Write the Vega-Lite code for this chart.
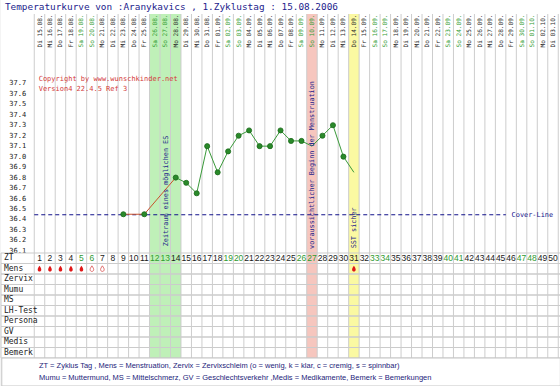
{
  "$schema": "https://vega.github.io/schema/vega-lite/v6.json",
  "padding": 0,
  "spacing": 0,
  "bounds": "flush",
  "background": "#f4f4f4",
  "config": {"view": {"stroke": null, "fill": "#ffffff"}, "concat": {"spacing": 0}},
  "datasets": {
    "days": [
      {"d":1,"lab":"Di 15.08.","we":"n"},{"d":2,"lab":"Mi 16.08.","we":"n"},{"d":3,"lab":"Do 17.08.","we":"n"},{"d":4,"lab":"Fr 18.08.","we":"n"},
      {"d":5,"lab":"Sa 19.08.","we":"w"},{"d":6,"lab":"So 20.08.","we":"w"},{"d":7,"lab":"Mo 21.08.","we":"n"},{"d":8,"lab":"Di 22.08.","we":"n"},
      {"d":9,"lab":"Mi 23.08.","we":"n"},{"d":10,"lab":"Do 24.08.","we":"n"},{"d":11,"lab":"Fr 25.08.","we":"n"},{"d":12,"lab":"Sa 26.08.","we":"w"},
      {"d":13,"lab":"So 27.08.","we":"w"},{"d":14,"lab":"Mo 28.08.","we":"n"},{"d":15,"lab":"Di 29.08.","we":"n"},{"d":16,"lab":"Mi 30.08.","we":"n"},
      {"d":17,"lab":"Do 31.08.","we":"n"},{"d":18,"lab":"Fr 01.09.","we":"n"},{"d":19,"lab":"Sa 02.09.","we":"w"},{"d":20,"lab":"So 03.09.","we":"w"},
      {"d":21,"lab":"Mo 04.09.","we":"n"},{"d":22,"lab":"Di 05.09.","we":"n"},{"d":23,"lab":"Mi 06.09.","we":"n"},{"d":24,"lab":"Do 07.09.","we":"n"},
      {"d":25,"lab":"Fr 08.09.","we":"n"},{"d":26,"lab":"Sa 09.09.","we":"w"},{"d":27,"lab":"So 10.09.","we":"w"},{"d":28,"lab":"Mo 11.09.","we":"n"},
      {"d":29,"lab":"Di 12.09.","we":"n"},{"d":30,"lab":"Mi 13.09.","we":"n"},{"d":31,"lab":"Do 14.09.","we":"n"},{"d":32,"lab":"Fr 15.09.","we":"n"},
      {"d":33,"lab":"Sa 16.09.","we":"w"},{"d":34,"lab":"So 17.09.","we":"w"},{"d":35,"lab":"Mo 18.09.","we":"n"},{"d":36,"lab":"Di 19.09.","we":"n"},
      {"d":37,"lab":"Mi 20.09.","we":"n"},{"d":38,"lab":"Do 21.09.","we":"n"},{"d":39,"lab":"Fr 22.09.","we":"n"},{"d":40,"lab":"Sa 23.09.","we":"w"},
      {"d":41,"lab":"So 24.09.","we":"w"},{"d":42,"lab":"Mo 25.09.","we":"n"},{"d":43,"lab":"Di 26.09.","we":"n"},{"d":44,"lab":"Mi 27.09.","we":"n"},
      {"d":45,"lab":"Do 28.09.","we":"n"},{"d":46,"lab":"Fr 29.09.","we":"n"},{"d":47,"lab":"Sa 30.09.","we":"w"},{"d":48,"lab":"So 01.10.","we":"w"},
      {"d":49,"lab":"Mo 02.10.","we":"n"},{"d":50,"lab":"Di 03.10.","we":"n"}
    ],
    "bounds": [
      {"d":0.5},{"d":1.5},{"d":2.5},{"d":3.5},{"d":4.5},{"d":5.5},{"d":6.5},{"d":7.5},{"d":8.5},{"d":9.5},
      {"d":10.5},{"d":11.5},{"d":12.5},{"d":13.5},{"d":14.5},{"d":15.5},{"d":16.5},{"d":17.5},{"d":18.5},{"d":19.5},
      {"d":20.5},{"d":21.5},{"d":22.5},{"d":23.5},{"d":24.5},{"d":25.5},{"d":26.5},{"d":27.5},{"d":28.5},{"d":29.5},
      {"d":30.5},{"d":31.5},{"d":32.5},{"d":33.5},{"d":34.5},{"d":35.5},{"d":36.5},{"d":37.5},{"d":38.5},{"d":39.5},
      {"d":40.5},{"d":41.5},{"d":42.5},{"d":43.5},{"d":44.5},{"d":45.5},{"d":46.5},{"d":47.5},{"d":48.5},{"d":49.5},{"d":50.5}
    ],
    "bands": [
      {"s":11.5,"e":14.5,"c":"g"},
      {"s":26.5,"e":27.5,"c":"p"},
      {"s":30.5,"e":31.5,"c":"y"}
    ],
    "temp": [
      {"d":9,"t":36.45,"seg":"r","m":1},
      {"d":11,"t":36.45,"seg":"r","m":1},
      {"d":14,"t":36.8,"seg":"r","m":0},
      {"d":14,"t":36.8,"seg":"g","m":1},
      {"d":15,"t":36.75,"seg":"g","m":1},
      {"d":16,"t":36.65,"seg":"g","m":1},
      {"d":17,"t":37.1,"seg":"g","m":1},
      {"d":18,"t":36.85,"seg":"g","m":1},
      {"d":19,"t":37.05,"seg":"g","m":1},
      {"d":20,"t":37.2,"seg":"g","m":1},
      {"d":21,"t":37.25,"seg":"g","m":1},
      {"d":22,"t":37.1,"seg":"g","m":1},
      {"d":23,"t":37.1,"seg":"g","m":1},
      {"d":24,"t":37.25,"seg":"g","m":1},
      {"d":25,"t":37.15,"seg":"g","m":1},
      {"d":26,"t":37.15,"seg":"g","m":1},
      {"d":27,"t":37.1,"seg":"g","m":0},
      {"d":28,"t":37.2,"seg":"g","m":1},
      {"d":29,"t":37.3,"seg":"g","m":1},
      {"d":30,"t":37.0,"seg":"g","m":1},
      {"d":31,"t":36.85,"seg":"g","m":0}
    ],
    "rows": [
      {"r":"ZT","d":-2.39,"d0":-2.674,"d1":50.762},{"r":"Mens","d":-2.39,"d0":-2.674,"d1":50.762},
      {"r":"Zervix","d":-2.39,"d0":-2.674,"d1":50.762},{"r":"Mumu","d":-2.39,"d0":-2.674,"d1":50.762},
      {"r":"MS","d":-2.39,"d0":-2.674,"d1":50.762},{"r":"LH-Test","d":-2.39,"d0":-2.674,"d1":50.762},
      {"r":"Persona","d":-2.39,"d0":-2.674,"d1":50.762},{"r":"GV","d":-2.39,"d0":-2.674,"d1":50.762},
      {"r":"Medis","d":-2.39,"d0":-2.674,"d1":50.762},{"r":"Bemerk","d":-2.39,"d0":-2.674,"d1":50.762}
    ]
  },
  "vconcat": [
    {
      "width": 560, "height": 14,
      "data": {"values": [{"d": -2.3, "s": "Temperaturkurve von :Aranykavics , 1.Zyklustag : 15.08.2006"}]},
      "mark": {"type": "text", "align": "left", "baseline": "middle", "font": "DejaVu Sans Mono", "fontSize": 9.4, "color": "#1c1c8c"},
      "encoding": {
        "x": {"field": "d", "type": "quantitative", "scale": {"domain": [-2.674, 50.762], "nice": false, "zero": false}, "axis": null},
        "text": {"field": "s"}
      }
    },
    {
      "width": 560, "height": 34,
      "resolve": {"scale": {"color": "independent"}},
      "encoding": {"x": {"field": "d", "type": "quantitative", "scale": {"domain": [-2.674, 50.762], "nice": false, "zero": false}, "axis": null}},
      "layer": [
        {
          "data": {"name": "bands"},
          "mark": {"type": "rect"},
          "encoding": {
            "x": {"field": "s", "type": "quantitative"},
            "x2": {"field": "e"},
            "color": {"field": "c", "type": "nominal", "scale": {"domain": ["g","p","y"], "range": ["#bff0b8","#f6c6be","#fbf9a2"]}, "legend": null}
          }
        },
        {
          "data": {"name": "bounds"},
          "mark": {"type": "rule", "color": "#cdcdcd", "strokeWidth": 1},
          "encoding": {}
        },
        {
          "data": {"name": "days"},
          "mark": {"type": "text", "angle": 270, "align": "center", "baseline": "middle", "font": "DejaVu Sans Mono", "fontSize": 6.1},
          "encoding": {
            "text": {"field": "lab"},
            "color": {"field": "we", "type": "nominal", "scale": {"domain": ["n", "w"], "range": ["#2a2a2a", "#2f9a2f"]}, "legend": null}
          }
        }
      ]
    },
    {
      "width": 560, "height": 205,
      "resolve": {"scale": {"color": "independent"}},
      "encoding": {
        "x": {"field": "d", "type": "quantitative", "scale": {"domain": [-2.674, 50.762], "nice": false, "zero": false}, "axis": null}
      },
      "layer": [
        {
          "data": {"name": "bands"},
          "mark": {"type": "rect"},
          "encoding": {
            "x": {"field": "s", "type": "quantitative"},
            "x2": {"field": "e"},
            "color": {"field": "c", "type": "nominal", "scale": {"domain": ["g","p","y"], "range": ["#bff0b8","#f6c6be","#fbf9a2"]}, "legend": null}
          }
        },
        {
          "data": {"values": [
            {"t":36.18},{"t":36.28},{"t":36.38},{"t":36.48},{"t":36.58},{"t":36.68},{"t":36.78},{"t":36.88},{"t":36.98},{"t":37.08},
            {"t":37.18},{"t":37.28},{"t":37.38},{"t":37.48},{"t":37.58},{"t":37.68},{"t":37.78},{"t":37.88},{"t":37.98}
          ]},
          "mark": {"type": "rule", "color": "#d4d4d4", "strokeWidth": 1},
          "encoding": {
            "y": {"field": "t", "type": "quantitative", "scale": {"domain": [36.08, 38.037], "nice": false, "zero": false}, "axis": null}
          }
        },
        {
          "data": {"name": "bounds"},
          "mark": {"type": "rule", "color": "#cdcdcd", "strokeWidth": 1},
          "encoding": {}
        },
        {
          "data": {"values": [
            {"d":-1.88,"t":37.7},{"d":-1.88,"t":37.6},{"d":-1.88,"t":37.5},{"d":-1.88,"t":37.4},{"d":-1.88,"t":37.3},{"d":-1.88,"t":37.2},
            {"d":-1.88,"t":37.1},{"d":-1.88,"t":37.0},{"d":-1.88,"t":36.9},{"d":-1.88,"t":36.8},{"d":-1.88,"t":36.7},{"d":-1.88,"t":36.6},
            {"d":-1.88,"t":36.5},{"d":-1.88,"t":36.4},{"d":-1.88,"t":36.3},{"d":-1.88,"t":36.2},{"d":-1.88,"t":36.1}
          ]},
          "mark": {"type": "text", "align": "left", "baseline": "middle", "font": "DejaVu Sans Mono", "fontSize": 7, "color": "#222222"},
          "encoding": {
            "y": {"field": "t", "type": "quantitative"},
            "text": {"field": "t", "type": "quantitative", "format": ".1f"}
          }
        },
        {
          "data": {"values": [
            {"d":0.92,"t":37.745,"s":"Copyright by www.wunschkinder.net"},
            {"d":0.92,"t":37.643,"s":"Version4 22.4.5 Ref 3"}
          ]},
          "mark": {"type": "text", "align": "left", "baseline": "middle", "font": "DejaVu Sans Mono", "fontSize": 7, "color": "#d43a3a"},
          "encoding": {
            "y": {"field": "t", "type": "quantitative"},
            "text": {"field": "s"}
          }
        },
        {
          "data": {"values": [{"d":0.5,"e":45.5,"t":36.445}]},
          "mark": {"type": "rule", "color": "#10108a", "strokeWidth": 1, "strokeDash": [4, 3]},
          "encoding": {
            "x2": {"field": "e"},
            "y": {"field": "t", "type": "quantitative"}
          }
        },
        {
          "data": {"values": [{"d":46.05,"t":36.445,"s":"Cover-Line"}]},
          "mark": {"type": "text", "align": "left", "baseline": "middle", "font": "DejaVu Sans Mono", "fontSize": 6.9, "color": "#10108a"},
          "encoding": {
            "y": {"field": "t", "type": "quantitative"},
            "text": {"field": "s"}
          }
        },
        {
          "data": {"name": "temp"},
          "mark": {"type": "line", "strokeWidth": 1},
          "encoding": {
            "y": {"field": "t", "type": "quantitative"},
            "color": {"field": "seg", "type": "nominal", "scale": {"domain": ["r","g"], "range": ["#c8522c","#3a9a3a"]}, "legend": null}
          }
        },
        {
          "data": {"name": "temp"},
          "transform": [{"filter": "datum.m == 1"}],
          "mark": {"type": "point", "filled": true, "size": 26, "color": "#2a8a2a", "stroke": "#1c6a1c", "strokeWidth": 0.8, "opacity": 1},
          "encoding": {
            "y": {"field": "t", "type": "quantitative"}
          }
        },
        {
          "data": {"values": [
            {"d":13.1,"t":36.672,"s":"Zeitraum eines möglichen ES"},
            {"d":27,"t":36.92,"s":"voraussichtlicher Beginn der Menstruation"},
            {"d":31,"t":36.32,"s":"SST sicher"}
          ]},
          "mark": {"type": "text", "angle": 270, "align": "center", "baseline": "middle", "font": "DejaVu Sans Mono", "fontSize": 6.8, "color": "#22228c"},
          "encoding": {
            "y": {"field": "t", "type": "quantitative"},
            "text": {"field": "s"}
          }
        }
      ]
    },
    {
      "width": 560, "height": 105,
      "resolve": {"scale": {"color": "independent"}},
      "encoding": {
        "x": {"field": "d", "type": "quantitative", "scale": {"domain": [-2.674, 50.762], "nice": false, "zero": false}, "axis": null}
      },
      "layer": [
        {
          "data": {"name": "bands"},
          "mark": {"type": "rect"},
          "encoding": {
            "x": {"field": "s", "type": "quantitative"},
            "x2": {"field": "e"},
            "color": {"field": "c", "type": "nominal", "scale": {"domain": ["g","p","y"], "range": ["#bff0b8","#f6c6be","#fbf9a2"]}, "legend": null}
          }
        },
        {
          "data": {"name": "rows"},
          "mark": {"type": "rect", "fillOpacity": 0, "stroke": "#cbcbcb", "strokeWidth": 1},
          "encoding": {
            "x": {"field": "d0", "type": "quantitative"},
            "x2": {"field": "d1"},
            "y": {"field": "r", "type": "nominal", "scale": {"type": "band", "domain": ["ZT","Mens","Zervix","Mumu","MS","LH-Test","Persona","GV","Medis","Bemerk"], "paddingInner": 0, "paddingOuter": 0}, "axis": null}
          }
        },
        {
          "data": {"name": "bounds"},
          "mark": {"type": "rule", "color": "#cdcdcd", "strokeWidth": 1},
          "encoding": {}
        },
        {
          "data": {"name": "rows"},
          "mark": {"type": "text", "align": "left", "baseline": "middle", "font": "DejaVu Sans Mono", "fontSize": 8, "color": "#222222"},
          "encoding": {
            "y": {"field": "r", "type": "nominal"},
            "text": {"field": "r"}
          }
        },
        {
          "data": {"name": "days"},
          "transform": [{"filter": "datum.d > 0"}],
          "mark": {"type": "text", "align": "center", "baseline": "middle", "font": "Liberation Sans", "fontSize": 8.5},
          "encoding": {
            "y": {"datum": "ZT", "type": "nominal"},
            "text": {"field": "d", "type": "quantitative"},
            "color": {"field": "we", "type": "nominal", "scale": {"domain": ["n", "w"], "range": ["#1a1a1a", "#2f9a2f"]}, "legend": null}
          }
        },
        {
          "data": {"values": [{"d":1,"r":"Mens"},{"d":2,"r":"Mens"},{"d":3,"r":"Mens"},{"d":4,"r":"Mens"},{"d":5,"r":"Mens"},{"d":31,"r":"Mens"}]},
          "mark": {"type": "point", "filled": true, "size": 34, "color": "#e01818", "opacity": 1,
                   "shape": "M0,-1C0.35,-0.45,0.62,-0.1,0.62,0.3A0.62,0.62,0,1,1,-0.62,0.3C-0.62,-0.1,-0.35,-0.45,0,-1Z"},
          "encoding": {"y": {"field": "r", "type": "nominal"}}
        },
        {
          "data": {"values": [{"d":6,"r":"Mens"},{"d":7,"r":"Mens"}]},
          "mark": {"type": "point", "filled": false, "size": 34, "stroke": "#e06a6a", "fill": "#ffffff", "strokeWidth": 1, "opacity": 1,
                   "shape": "M0,-1C0.35,-0.45,0.62,-0.1,0.62,0.3A0.62,0.62,0,1,1,-0.62,0.3C-0.62,-0.1,-0.35,-0.45,0,-1Z"},
          "encoding": {"y": {"field": "r", "type": "nominal"}}
        }
      ]
    },
    {
      "width": 560, "height": 28,
      "encoding": {
        "x": {"field": "d", "type": "quantitative", "scale": {"domain": [-2.674, 50.762], "nice": false, "zero": false}, "axis": null}
      },
      "layer": [
        {
          "data": {"values": [{"d": -2.6, "e": 50.7}]},
          "mark": {"type": "rect", "fill": "#ffffff", "stroke": "#c4c4c4", "strokeWidth": 1},
          "encoding": {"x2": {"field": "e"}}
        },
        {
          "data": {"values": [
            {"d": 0.95, "l": "a", "s": "ZT = Zyklus Tag , Mens = Menstruation, Zervix = Zervixschleim (o = wenig, k = klar, c = cremig, s = spinnbar)"},
            {"d": 0.95, "l": "b", "s": "Mumu = Muttermund, MS = Mittelschmerz, GV = Geschlechtsverkehr ,Medis = Medikamente, Bemerk = Bemerkungen"}
          ]},
          "mark": {"type": "text", "align": "left", "baseline": "middle", "font": "Liberation Sans", "fontSize": 7.5, "color": "#1c1c7a"},
          "encoding": {
            "y": {"field": "l", "type": "nominal", "scale": {"type": "point", "domain": ["a","b"], "padding": 0.77}, "axis": null},
            "text": {"field": "s"}
          }
        }
      ]
    }
  ]
}
